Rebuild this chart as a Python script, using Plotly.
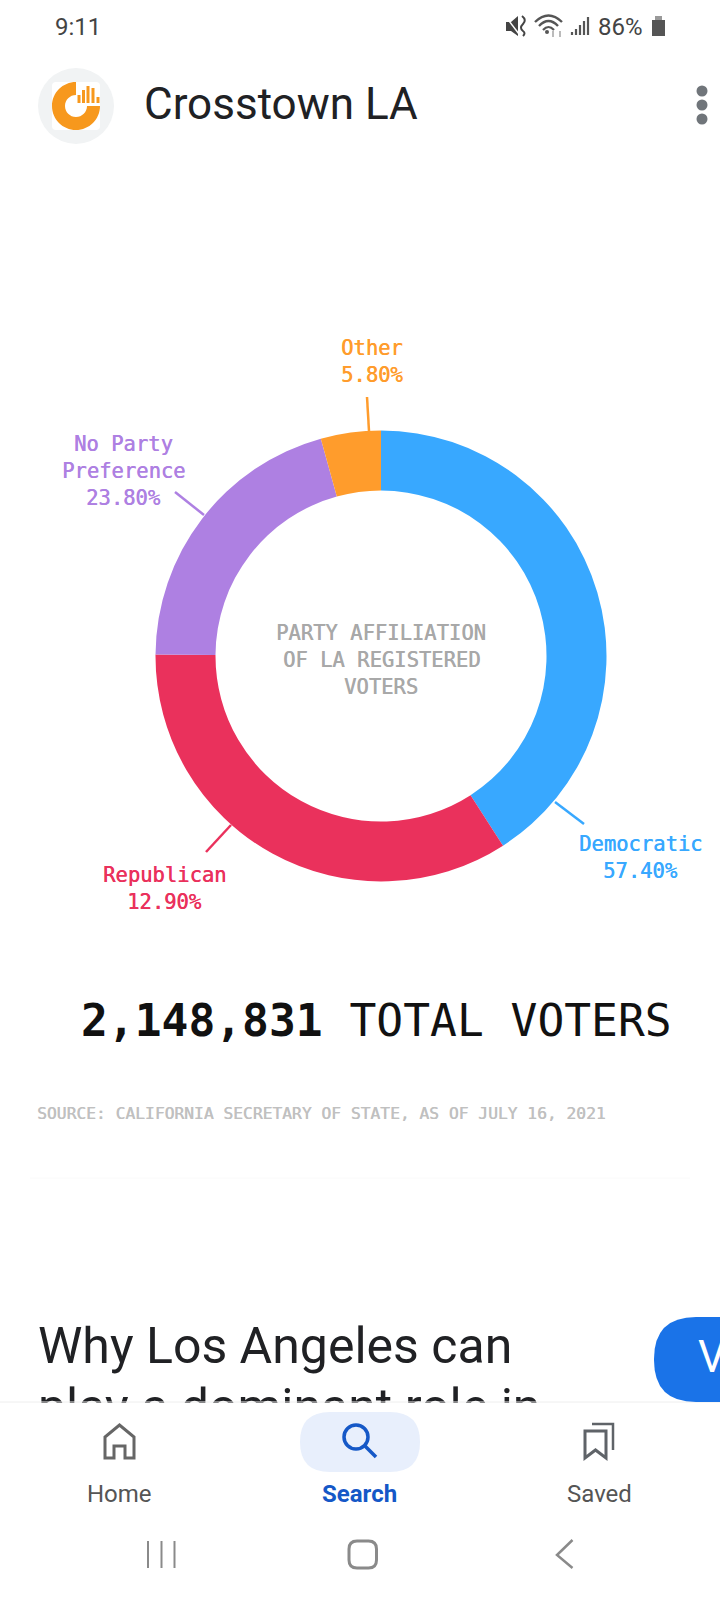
import plotly.graph_objects as go

# Slice sizes as drawn in the picture (% of the ring). They differ from the
# printed labels below, which are reproduced as text exactly as the source prints them.
categories = ["Democratic", "Republican", "No Party Preference", "Other"]
drawn_share = [40.9, 34.2, 20.6, 4.3]
printed_labels = ["57.40%", "12.90%", "23.80%", "5.80%"]
slice_colors = ["#38a8ff", "#ea315c", "#ae80e2", "#ff9c2c"]

center_title = ["PARTY AFFILIATION", "OF LA REGISTERED", "VOTERS"]
total_voters = "2,148,831"
source_text = "SOURCE: CALIFORNIA SECRETARY OF STATE, AS OF JULY 16, 2021"

W, H = 720, 1600
CX, CY, R, RI = 381, 656, 225.5, 165.5
MONO = "DejaVu Sans Mono"
UI = "Roboto"

ann, shp = [], []

def text(x, y, s, size, color, font=MONO, anchor="center", heavy=False):
    f = dict(family=font, size=size, color=color)
    if heavy:
        f["shadow"] = f"0.5px 0 0.3px {color}"
    ann.append(dict(x=x, y=y, xref="x", yref="y", text=s, showarrow=False, xanchor=anchor,
                    yanchor="middle", font=f, borderpad=0, borderwidth=0))

def line(x0, y0, x1, y1, color, w=2.5, layer="above"):
    shp.append(dict(type="line", x0=x0, y0=y0, x1=x1, y1=y1, xref="x", yref="y", layer=layer,
                    line=dict(color=color, width=w)))

def path(d, fill="rgba(0,0,0,0)", color="rgba(0,0,0,0)", w=0, layer="above"):
    shp.append(dict(type="path", path=d, xref="x", yref="y", layer=layer, fillcolor=fill,
                    line=dict(color=color, width=w)))

def box(x0, y0, x1, y1, fill, layer="above"):
    shp.append(dict(type="rect", x0=x0, y0=y0, x1=x1, y1=y1, xref="x", yref="y", layer=layer,
                    fillcolor=fill, line=dict(width=0)))

def disc(x, y, r, fill, layer="above"):
    shp.append(dict(type="circle", x0=x-r, y0=y-r, x1=x+r, y1=y+r, xref="x", yref="y", layer=layer,
                    fillcolor=fill, line=dict(width=0)))

def rrect(x0, y0, x1, y1, r):
    return (f"M{x0+r},{y0} L{x1-r},{y0} Q{x1},{y0} {x1},{y0+r} L{x1},{y1-r} Q{x1},{y1} {x1-r},{y1} "
            f"L{x0+r},{y1} Q{x0},{y1} {x0},{y1-r} L{x0},{y0+r} Q{x0},{y0} {x0+r},{y0} Z")

# ---- chart labels and leader lines
LBL = 20.5
text(371.5, 348, "Other", LBL, slice_colors[3], heavy=True)
text(371.5, 375, printed_labels[3], LBL, slice_colors[3], heavy=True)
text(123.5, 444, "No Party", LBL, slice_colors[2], heavy=True)
text(123.5, 471, "Preference", LBL, slice_colors[2], heavy=True)
text(123.5, 498, printed_labels[2], LBL, slice_colors[2], heavy=True)
text(640.5, 844, categories[0], LBL, slice_colors[0], heavy=True)
text(640.5, 871, printed_labels[0], LBL, slice_colors[0], heavy=True)
text(164.5, 875, categories[1], LBL, slice_colors[1], heavy=True)
text(164.5, 902, printed_labels[1], LBL, slice_colors[1], heavy=True)
line(367, 397, 369, 431, slice_colors[3])
line(175, 492, 204, 515, slice_colors[2])
line(555, 802, 584, 824, slice_colors[0])
line(231, 825, 206, 852, slice_colors[1])
for y, s in zip([633, 660, 687], center_title):
    text(CX, y, s, 20.5, "#a8a8a8", heavy=True)

ann.append(dict(x=79, y=1021, xref="x", yref="y", showarrow=False, xanchor="left", yanchor="middle",
                text=f"<b>{total_voters}</b> TOTAL VOTERS",
                font=dict(family=MONO, size=44.6, color="#111111")))
text(37, 1113, source_text, 16.3, "#c0c0c0", anchor="left", heavy=True)
line(30, 1178, 690, 1178, "#fafafa", 1)

# ---- status bar
text(55, 27, "9:11", 24, "#444444", UI, "left")
text(598, 27, "86%", 24, "#444444", UI, "left")
path("M652,20 L665,20 L665,36 L652,36 Z", fill="#555555")
box(655, 16, 662, 20, "#999999")
for x, top in zip([572, 576, 580, 584, 588], [32, 29, 25, 21, 17]):
    line(x, top, x, 35, "#555555", 2.2)
path("M535,22 Q548.5,9 562,22", color="#555555", w=2.4)
path("M539,26 Q548.5,16 558,26", color="#555555", w=2.4)
path("M543,30 Q548.5,24 554,30", color="#555555", w=2.2)
disc(547, 32, 2, "#555555")
line(553, 31, 553, 37, "#aaaaaa", 1.6)
line(560, 31, 560, 37, "#aaaaaa", 1.6)
path("M506,22 L511,22 L518,16 L518,36 L511,31 L506,31 Z", fill="#444444")
line(506, 17, 519, 34, "#ffffff", 1.5)
path("M522,16 Q527,20 523,24 Q519,28 523,31 Q526,33 523,36", color="#444444", w=2)

# ---- app bar
K = 0.5523
ro, ri = 24, 11
lx, ly = 76, 106
disc(76, 106, 38, "#f1f3f4")
path(rrect(52, 82, 100, 130, 4), fill="#ffffff")
path(f"M{lx},{ly-ro} C{lx-K*ro},{ly-ro} {lx-ro},{ly-K*ro} {lx-ro},{ly} "
     f"C{lx-ro},{ly+K*ro} {lx-K*ro},{ly+ro} {lx},{ly+ro} "
     f"C{lx+K*ro},{ly+ro} {lx+ro},{ly+K*ro} {lx+ro},{ly} L{lx+ri},{ly} "
     f"C{lx+ri},{ly+K*ri} {lx+K*ri},{ly+ri} {lx},{ly+ri} "
     f"C{lx-K*ri},{ly+ri} {lx-ri},{ly+K*ri} {lx-ri},{ly} "
     f"C{lx-ri},{ly-K*ri} {lx-K*ri},{ly-ri} {lx},{ly-ri} Z", fill="#f7981d")
for x, top in zip([79, 83.5, 88, 93, 98], [95, 90, 86, 88, 97]):
    line(x, top, x, 103, "#f7981d", 3)
text(144, 104, "Crosstown LA", 44, "#202124", UI, "left")
for y in (91, 105, 119):
    disc(702, y, 5.5, "#70757a")

# ---- article headline: a text trace, so the navigation sheet can cover its second line
headline_x = [38, 38]
headline_y = [1350, 1411]
headline = ["Why Los Angeles can", "play a dominant role in"]

# ---- bottom navigation
box(0, 1403, 720, 1600, "#ffffff")
line(0, 1402, 720, 1402, "#eeeeee", 1)
path(rrect(654, 1317, 760, 1402, 42), fill="#1a73e8")
text(698, 1357, "V", 44, "#ffffff", UI, "left")
path(rrect(300, 1412, 420, 1472, 30), fill="#e8effc")
shp.append(dict(type="circle", x0=344, y0=1425, x1=368, y1=1449, xref="x", yref="y", layer="above",
                line=dict(color="#1558c7", width=3.5)))
line(364, 1445, 376, 1457, "#1558c7", 3.5)
path("M105,1458 L105,1437 L119.5,1425 L134,1437 L134,1458 L125,1458 L125,1446 L114,1446 L114,1458 Z",
     color="#666666", w=3)
path("M585,1431 L606,1431 L606,1458 L595.5,1450 L585,1458 Z", color="#5f6368", w=3)
path("M592,1424 L613,1424 L613,1450", color="#5f6368", w=2.5)
text(119, 1494, "Home", 24, "#555555", UI)
text(359, 1494, "<b>Search</b>", 24, "#1558c7", UI)
text(599, 1494, "Saved", 24, "#555555", UI)
for x in (148, 161.5, 174.5):
    line(x, 1541, x, 1568, "#8a8a8a", 2)
path(rrect(349, 1541, 376.5, 1568, 8), color="#8a8a8a", w=3)
path("M572.5,1540 L557,1555 L572.5,1568", color="#8a8a8a", w=2.5)

fig = go.Figure()
fig.add_trace(go.Scatter(x=headline_x, y=headline_y, text=headline, mode="text",
                         textposition="middle right", cliponaxis=False, hoverinfo="skip",
                         textfont=dict(family=UI, size=50, color="#202124")))
fig.add_trace(go.Pie(labels=categories, values=drawn_share, hole=RI / R, sort=False,
                     direction="clockwise", rotation=0, textinfo="none", hoverinfo="label",
                     marker=dict(colors=slice_colors, line=dict(width=0)),
                     domain=dict(x=[(CX - R) / W, (CX + R) / W],
                                 y=[1 - (CY + R) / H, 1 - (CY - R) / H])))
fig.update_layout(width=W, height=H, margin=dict(l=0, r=0, t=0, b=0), showlegend=False,
                  paper_bgcolor="#ffffff", plot_bgcolor="#ffffff",
                  xaxis=dict(range=[0, W], visible=False, fixedrange=True),
                  yaxis=dict(range=[H, 0], visible=False, fixedrange=True),
                  annotations=ann, shapes=shp)
fig.write_html("out.html", config=dict(displayModeBar=False),
               post_script="document.body.style.margin='0';document.body.style.overflow='hidden';")
